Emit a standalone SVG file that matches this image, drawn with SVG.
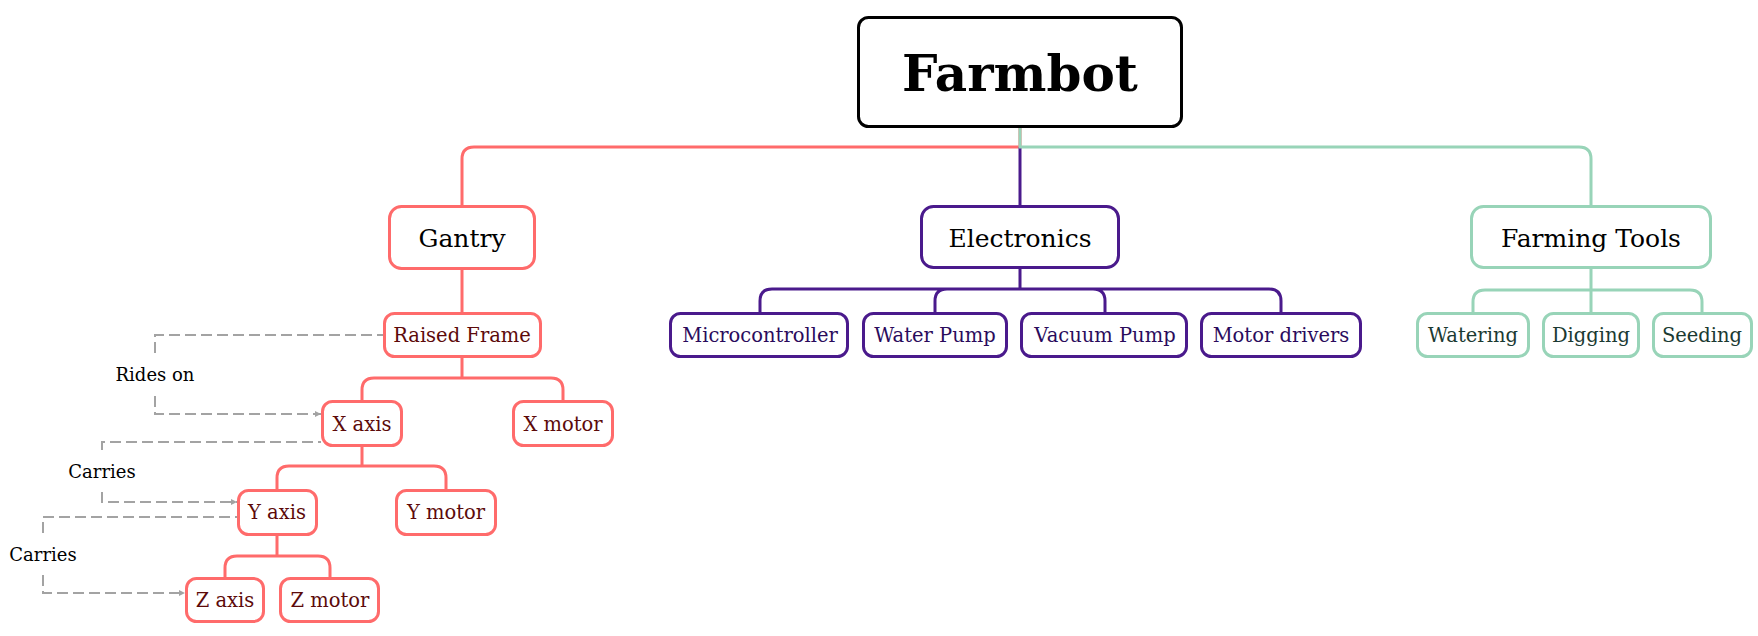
<svg xmlns="http://www.w3.org/2000/svg" width="1758" height="636" viewBox="0 0 1758 636">
<defs>
<style>
text{font-family:"DejaVu Serif","Liberation Serif",serif;text-anchor:middle}
.n rect{fill:#fff;stroke-width:3}
.root rect{stroke:#000}
.red rect{stroke:#ff6b6b}
.pur rect{stroke:#4a1a8c}
.grn rect{stroke:#98d4b8}
.top text{font-size:25px;fill:#000}
.sm text{font-size:19.5px}
.red.sm text{fill:#5c0a0a}
.pur.sm text{fill:#2a0b5c}
.grn.sm text{fill:#1b3a32}
.c{fill:none;stroke-width:3}
.cr{stroke:#ff6b6b}
.cp{stroke:#4a1a8c}
.cg{stroke:#98d4b8}
.d{fill:none;stroke:#a3a3a3;stroke-width:2;stroke-dasharray:11 5}
.lbl{font-size:18px;fill:#000}
</style>
<marker id="ar" markerUnits="userSpaceOnUse" markerWidth="7" markerHeight="7" refX="6" refY="3" orient="auto">
<path d="M0,0 L6,3 L0,6 Z" fill="#a3a3a3"/>
</marker>
</defs>
<rect width="1758" height="636" fill="#fff"/>
<g id="connectors">
<path class="c cr" d="M1020,128 V147 H474 Q462,147 462,159 V205"/>
<path class="c cp" d="M1020,147 V205"/>
<path class="c cg" d="M1020,128 V147 H1579 Q1591,147 1591,159 V205"/>
<path class="c cr" d="M462,270 V312"/>
<path class="c cr" d="M462,358 V378 H374 Q362,378 362,390 V400 M462,378 H551 Q563,378 563,390 V400"/>
<path class="c cr" d="M362,447 V466 H289 Q277,466 277,478 V489 M362,466 H434 Q446,466 446,478 V489"/>
<path class="c cr" d="M277,536 V556 H237 Q225,556 225,568 V577 M277,556 H318 Q330,556 330,568 V577"/>
<path class="c cp" d="M1020,269 V289 H772 Q760,289 760,301 V312 M1020,289 H947 Q935,289 935,301 V312 M1020,289 H1093 Q1105,289 1105,301 V312 M1020,289 H1269 Q1281,289 1281,301 V312"/>
<path class="c cg" d="M1591,269 V312 M1591,290 H1485 Q1473,290 1473,302 V312 M1591,290 H1690 Q1702,290 1702,302 V312"/>
<path class="d" d="M155,353 V335 H383"/>
<path class="d" d="M155,396 V414 H321" marker-end="url(#ar)"/>
<path class="d" d="M102,450 V442 H321"/>
<path class="d" d="M102,492 V502 H237" marker-end="url(#ar)"/>
<path class="d" d="M43,533 V517 H237"/>
<path class="d" d="M43,575 V593 H185" marker-end="url(#ar)"/>
<text class="lbl" x="155" y="381">Rides on</text>
<text class="lbl" x="102" y="478">Carries</text>
<text class="lbl" x="43" y="561">Carries</text>
</g>
<g id="farmbot" class="n root"><rect x="858.5" y="17.5" width="323" height="109" rx="10"/><text x="1020" y="91" style="font-size:50px;font-weight:bold;fill:#000">Farmbot</text></g>
<g id="gantry" class="n red top"><rect x="389.5" y="206.5" width="145" height="62" rx="12"/><text x="462" y="247">Gantry</text></g>
<g id="electronics" class="n pur top"><rect x="921.5" y="206.5" width="197" height="61" rx="12"/><text x="1020" y="247">Electronics</text></g>
<g id="farming-tools" class="n grn top"><rect x="1471.5" y="206.5" width="239" height="61" rx="12"/><text x="1591" y="247">Farming Tools</text></g>
<g id="raised-frame" class="n red sm"><rect x="384.5" y="313.5" width="156" height="43" rx="10"/><text x="462" y="342">Raised Frame</text></g>
<g id="x-axis" class="n red sm"><rect x="322.5" y="401.5" width="79" height="44" rx="10"/><text x="362" y="431">X axis</text></g>
<g id="x-motor" class="n red sm"><rect x="513.5" y="401.5" width="99" height="44" rx="10"/><text x="563" y="431">X motor</text></g>
<g id="y-axis" class="n red sm"><rect x="238.5" y="490.5" width="78" height="44" rx="10"/><text x="277" y="519">Y axis</text></g>
<g id="y-motor" class="n red sm"><rect x="396.5" y="490.5" width="99" height="44" rx="10"/><text x="446" y="519">Y motor</text></g>
<g id="z-axis" class="n red sm"><rect x="186.5" y="578.5" width="77" height="43" rx="10"/><text x="225" y="607">Z axis</text></g>
<g id="z-motor" class="n red sm"><rect x="280.5" y="578.5" width="98" height="43" rx="10"/><text x="330" y="607">Z motor</text></g>
<g id="microcontroller" class="n pur sm"><rect x="670.5" y="313.5" width="177" height="43" rx="10"/><text x="760" y="342">Microcontroller</text></g>
<g id="water-pump" class="n pur sm"><rect x="863.5" y="313.5" width="143" height="43" rx="10"/><text x="935" y="342">Water Pump</text></g>
<g id="vacuum-pump" class="n pur sm"><rect x="1021.5" y="313.5" width="165" height="43" rx="10"/><text x="1105" y="342">Vacuum Pump</text></g>
<g id="motor-drivers" class="n pur sm"><rect x="1201.5" y="313.5" width="159" height="43" rx="10"/><text x="1281" y="342">Motor drivers</text></g>
<g id="watering" class="n grn sm"><rect x="1417.5" y="313.5" width="111" height="43" rx="10"/><text x="1473" y="342">Watering</text></g>
<g id="digging" class="n grn sm"><rect x="1543.5" y="313.5" width="95" height="43" rx="10"/><text x="1591" y="342">Digging</text></g>
<g id="seeding" class="n grn sm"><rect x="1653.5" y="313.5" width="98" height="43" rx="10"/><text x="1702" y="342">Seeding</text></g>
</svg>
